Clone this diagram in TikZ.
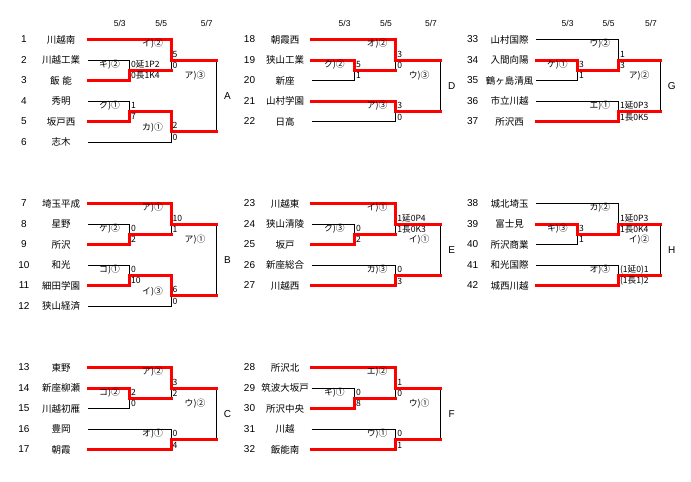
\documentclass[tikz,border=0pt]{standalone}
\usepackage{fontspec}
\setmainfont{Liberation Sans}
\newfontfamily\jp{Noto Sans CJK JP}
\newcommand\yr[1]{39.5+20.5*(#1)}
\newcommand\setcol[6]{\def\cxn{#1}\def\cxm{#2}\def\cxa{#3}\def\cxb{#4}\def\cxc{#5}\def\cxd{#6}}
\newcommand\tteam[3]{\node[num] (n#1) at (\cxn,{\yr{#3}}) {#1};\node[tname] (t#1) at (\cxm,{\yr{#3}}) {#2};}
% black structure
\newcommand\topblack{%
 \draw[bl] (\cxa,{\yr{\RR}}) -- (\cxc,{\yr{\RR}}) -- (\cxc,{\yr{\RR+1.5}}) -- (\cxb,{\yr{\RR+1.5}});
 \draw[bl] (\cxa,{\yr{\RR+1}}) -- (\cxb,{\yr{\RR+1}}) -- (\cxb,{\yr{\RR+2}}) -- (\cxa,{\yr{\RR+2}});
 \draw[bl] (\cxc,{\yr{\RR+1}}) -- (\cxd,{\yr{\RR+1}});}
\newcommand\botfive{%
 \draw[bl] (\cxa,{\yr{\RR+3}}) -- (\cxc,{\yr{\RR+3}}) -- (\cxc,{\yr{\RR+4}}) -- (\cxa,{\yr{\RR+4}});
 \draw[bl] (\cxc,{\yr{\RR+3.5}}) -- (\cxd,{\yr{\RR+3.5}});
 \draw[bl] (\cxd,{\yr{\RR+1}}) -- (\cxd,{\yr{\RR+3.5}});}
\newcommand\botsix{%
 \draw[bl] (\cxa,{\yr{\RR+3}}) -- (\cxb,{\yr{\RR+3}}) -- (\cxb,{\yr{\RR+4}}) -- (\cxa,{\yr{\RR+4}});
 \draw[bl] (\cxb,{\yr{\RR+3.5}}) -- (\cxc,{\yr{\RR+3.5}}) -- (\cxc,{\yr{\RR+5}}) -- (\cxa,{\yr{\RR+5}});
 \draw[bl] (\cxc,{\yr{\RR+4.5}}) -- (\cxd,{\yr{\RR+4.5}});
 \draw[bl] (\cxd,{\yr{\RR+1}}) -- (\cxd,{\yr{\RR+4.5}});}
% red winner paths
\newcommand\rtopzero{\draw[rd] (\cxa,{\yr{\RR}}) -- (\cxc,{\yr{\RR}}) -- (\cxc,{\yr{\RR+1}}) -- (\cxd,{\yr{\RR+1}});}
\newcommand\rone[1]{\draw[rd] (\cxa,{\yr{\RR+#1}}) -- (\cxb,{\yr{\RR+#1}}) -- (\cxb,{\yr{\RR+1.5}}) -- (\cxc,{\yr{\RR+1.5}});}
\newcommand\rsemi{\draw[rd] (\cxc,{\yr{\RR+1.5}}) -- (\cxc,{\yr{\RR+1}}) -- (\cxd,{\yr{\RR+1}});}
\newcommand\rbotfive[1]{\draw[rd] (\cxa,{\yr{\RR+#1}}) -- (\cxc,{\yr{\RR+#1}}) -- (\cxc,{\yr{\RR+3.5}}) -- (\cxd,{\yr{\RR+3.5}});}
\newcommand\rbotsix{\draw[rd] (\cxa,{\yr{\RR+4}}) -- (\cxb,{\yr{\RR+4}}) -- (\cxb,{\yr{\RR+3.5}}) -- (\cxc,{\yr{\RR+3.5}}) -- (\cxc,{\yr{\RR+4.5}}) -- (\cxd,{\yr{\RR+4.5}});}
% labels and scores
\newcommand\Ltop[2]{\node[mlab] (#1) at (\cxc-8,{\yr{\RR}+4.5}) {#2};}
\newcommand\Lone[2]{\node[mlab] (#1) at (\cxb-9.5,{\yr{\RR+1}+5}) {#2};}
\newcommand\Sone[3]{\node[sc] (#1u) at (\cxb+1.5,{\yr{\RR+1}+4.5}) {#2};\node[sc] (#1l) at (\cxb+1.5,{\yr{\RR+1.5}+5.5}) {#3};}
\newcommand\Stwo[3]{\node[sc] (#1u) at (\cxc+1.5,{\yr{\RR+1}-6}) {#2};\node[sc] (#1l) at (\cxc+1.5,{\yr{\RR+1}+5.5}) {#3};}
\newcommand\Lfin[2]{\node[mlab] (#1) at (\cxd-11,{\yr{\RR+1.75}}) {#2};}
\newcommand\Lbot[2]{\node[mlab] (#1) at (\cxc-8,{\yr{\RR+3}+5}) {#2};}
\newcommand\Sbot[3]{\node[sc] (#1u) at (\cxc+1.5,{\yr{\RR+3.5}-6}) {#2};\node[sc] (#1l) at (\cxc+1.5,{\yr{\RR+3.5}+6}) {#3};}
\newcommand\Lbotone[2]{\node[mlab] (#1) at (\cxb-9.5,{\yr{\RR+3}+5}) {#2};}
\newcommand\Sbotone[3]{\node[sc] (#1u) at (\cxb+1.5,{\yr{\RR+3}+4.5}) {#2};\node[sc] (#1l) at (\cxb+1.5,{\yr{\RR+3.5}+5}) {#3};}
\newcommand\Lbottwo[2]{\node[mlab] (#1) at (\cxc-8,{\yr{\RR+4.5}-4.5}) {#2};}
\newcommand\Sbottwo[3]{\node[sc] (#1u) at (\cxc+1.5,{\yr{\RR+4.5}-6}) {#2};\node[sc] (#1l) at (\cxc+1.5,{\yr{\RR+4.5}+5.5}) {#3};}
\newcommand\Llet[3]{\node[blk] (#1) at (\cxd+11,{\yr{\RR+#3}}) {#2};}
\newcommand\hdrs[1]{\node[hdr] (#1a) at (\cxb-9.7,23) {5/3};\node[hdr] (#1b) at (\cxc-9.7,23) {5/5};\node[hdr] (#1c) at (\cxd-9.7,23) {5/7};}
\tikzset{
 bl/.style={line width=0.8pt, black},
 rd/.style={line width=3pt, red, line join=miter, line cap=rect},
 num/.style={font=\fontsize{10}{10}\selectfont, inner sep=0pt},
 tname/.style={font=\jp\fontsize{9.5}{10}\selectfont, inner sep=0pt},
 mlab/.style={font=\jp\fontsize{8.8}{9}\selectfont, inner sep=0pt, anchor=east},
 sc/.style={font=\jp\fontsize{8.6}{9}\selectfont, inner sep=0pt, anchor=west},
 hdr/.style={font=\fontsize{8.5}{9}\selectfont, inner sep=0pt},
 blk/.style={font=\fontsize{10}{10}\selectfont, inner sep=0pt},
}
\begin{document}
\begin{tikzpicture}[x=1pt,y=-1pt]
\fill[white] (0,0) rectangle (691,482);
\useasboundingbox (0,0) rectangle (691,482);
% ================= column 1 =================
\setcol{24}{61}{88}{129.5}{171}{216.5}
\hdrs{h1}
% ---- A ----
\def\RR{0}
\topblack \botsix
\rtopzero \rone{2} \rbotsix
\tteam{1}{川越南}{0}\tteam{2}{川越工業}{1}\tteam{3}{飯\hspace{3pt}能}{2}
\tteam{4}{秀明}{3}\tteam{5}{坂戸西}{4}\tteam{6}{志木}{5}
\Ltop{a1}{イ)②}\Lone{a2}{キ)②}\Sone{a3}{0延1P2}{0長1K4}\Stwo{a4}{5}{0}
\Lfin{a5}{ア)③}\Lbotone{a6}{ク)①}\Sbotone{a7}{1}{7}\Lbottwo{a8}{カ)①}\Sbottwo{a9}{2}{0}
\Llet{LA}{A}{2.75}
% ---- B ----
\def\RR{8}
\topblack \botsix
\rtopzero \rone{2} \rbotsix
\tteam{7}{埼玉平成}{8}\tteam{8}{星野}{9}\tteam{9}{所沢}{10}
\tteam{10}{和光}{11}\tteam{11}{細田学園}{12}\tteam{12}{狭山経済}{13}
\Ltop{b1}{ア)①}\Lone{b2}{ケ)②}\Sone{b3}{0}{2}\Stwo{b4}{10}{1}
\Lfin{b5}{ア)①}\Lbotone{b6}{コ)①}\Sbotone{b7}{0}{10}\Lbottwo{b8}{イ)③}\Sbottwo{b9}{6}{0}
\Llet{LB}{B}{2.75}
% ---- C ----
\def\RR{16}
\topblack \botfive
\rtopzero \rone{1} \rbotfive{4}
\tteam{13}{東野}{16}\tteam{14}{新座柳瀬}{17}\tteam{15}{川越初雁}{18}
\tteam{16}{豊岡}{19}\tteam{17}{朝霞}{20}
\Ltop{c1}{ア)②}\Lone{c2}{コ)②}\Sone{c3}{2}{0}\Stwo{c4}{3}{2}
\Lfin{c5}{ウ)②}\Lbot{c6}{オ)①}\Sbot{c7}{0}{4}
\Llet{LC}{C}{2.25}
% ================= column 2 =================
\setcol{249.5}{285}{311.7}{354.3}{395.7}{440.7}
\hdrs{h2}
% ---- D ----
\def\RR{0}
\topblack \botfive
\rtopzero \rone{1} \rbotfive{3}
\tteam{18}{朝霞西}{0}\tteam{19}{狭山工業}{1}\tteam{20}{新座}{2}
\tteam{21}{山村学園}{3}\tteam{22}{日高}{4}
\Ltop{d1}{オ)②}\Lone{d2}{ク)②}\Sone{d3}{5}{1}\Stwo{d4}{3}{0}
\Lfin{d5}{ウ)③}\Lbot{d6}{ア)③}\Sbot{d7}{3}{0}
\Llet{LD}{D}{2.25}
% ---- E ----
\def\RR{8}
\topblack \botfive
\rtopzero \rone{2} \rbotfive{4}
\tteam{23}{川越東}{8}\tteam{24}{狭山清陵}{9}\tteam{25}{坂戸}{10}
\tteam{26}{新座総合}{11}\tteam{27}{川越西}{12}
\Ltop{e1}{イ)①}\Lone{e2}{ク)③}\Sone{e3}{0}{2}\Stwo{e4}{1延0P4}{1長0K3}
\Lfin{e5}{イ)①}\Lbot{e6}{カ)③}\Sbot{e7}{0}{3}
\Llet{LE}{E}{2.25}
% ---- F ----
\def\RR{16}
\topblack \botfive
\rtopzero \rone{2} \rbotfive{4}
\tteam{28}{所沢北}{16}\tteam{29}{筑波大坂戸}{17}\tteam{30}{所沢中央}{18}
\tteam{31}{川越}{19}\tteam{32}{飯能南}{20}
\Ltop{f1}{エ)②}\Lone{f2}{キ)①}\Sone{f3}{0}{8}\Stwo{f4}{1}{0}
\Lfin{f5}{ウ)①}\Lbot{f6}{ウ)①}\Sbot{f7}{0}{1}
\Llet{LF}{F}{2.25}
% ================= column 3 =================
\setcol{472.7}{509.5}{536}{577.3}{618.3}{660.7}
\hdrs{h3}
% ---- G ----
\def\RR{0}
\topblack \botfive
\rone{1} \rsemi \rbotfive{4}
\tteam{33}{山村国際}{0}\tteam{34}{入間向陽}{1}\tteam{35}{鶴ヶ島清風}{2}
\tteam{36}{市立川越}{3}\tteam{37}{所沢西}{4}
\Ltop{g1}{ウ)②}\Lone{g2}{ケ)①}\Sone{g3}{3}{1}\Stwo{g4}{1}{3}
\Lfin{g5}{ア)②}\Lbot{g6}{エ)①}\Sbot{g7}{1延0P3}{1長0K5}
\Llet{LG}{G}{2.25}
% ---- H ----
\def\RR{8}
\topblack \botfive
\rone{1} \rsemi \rbotfive{4}
\tteam{38}{城北埼玉}{8}\tteam{39}{富士見}{9}\tteam{40}{所沢商業}{10}
\tteam{41}{和光国際}{11}\tteam{42}{城西川越}{12}
\Ltop{k1}{カ)②}\Lone{k2}{キ)③}\Sone{k3}{3}{1}\Stwo{k4}{1延0P3}{1長0K4}
\Lfin{k5}{イ)②}\Lbot{k6}{オ)③}\Sbot{k7}{(1延0)1}{(1長1)2}
\Llet{LH}{H}{2.25}
\end{tikzpicture}
\end{document}
